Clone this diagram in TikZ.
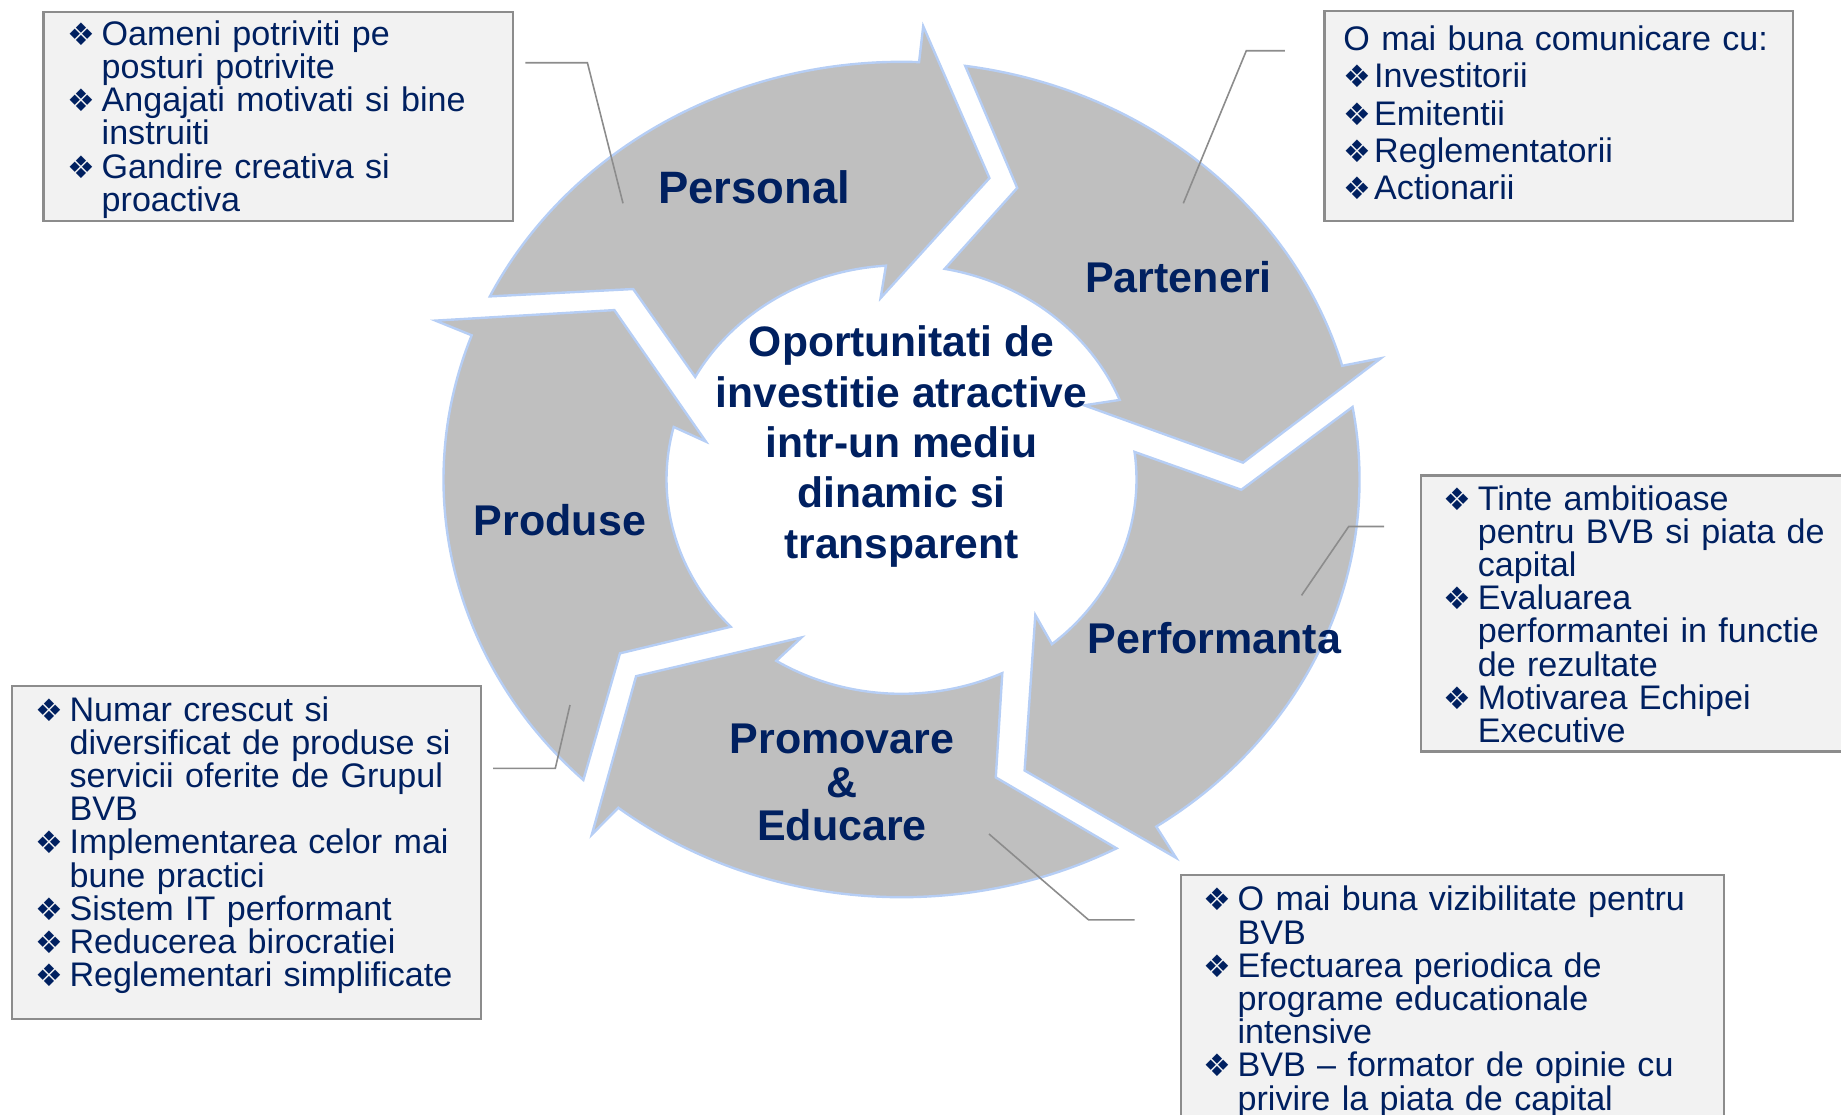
\documentclass[tikz,border=0pt]{standalone}
\usepackage{fontspec}
\setmainfont{Liberation Sans}
\newfontfamily\simbol{DejaVu Sans}
\definecolor{bleumarin}{RGB}{0,32,96}
\definecolor{gri}{RGB}{191,191,191}
\definecolor{contur}{RGB}{182,206,245}
\definecolor{fundal}{RGB}{242,242,242}
\definecolor{chenar}{RGB}{140,140,140}
\newcommand\bul{\makebox[17.2pt][l]{\simbol\fontsize{15.5}{15.5}\selectfont ❖}}
\newcommand\bulc{\makebox[15.4pt][l]{\simbol\fontsize{15.5}{15.5}\selectfont ❖}}
\newcommand\ind{\hspace*{17.2pt}}
\newcommand\sus{\rule{0pt}{17pt}}
\newcommand\fcaseta{\fontsize{17.05}{16.6}\selectfont\lineskiplimit=-20pt\relax}
\tikzset{
  sageata/.style={fill=gri, draw=contur, line width=1.2pt},
  caseta/.style={fill=fundal, draw=chenar, line width=1.1pt},
  linie/.style={draw=chenar, line width=0.8pt},
  eticheta/.style={text=bleumarin, font=\fontsize{21.5}{21.75}\selectfont\bfseries, inner sep=0pt},
  textcaseta/.style={anchor=north west, inner sep=0pt, text width=260pt, align=left, text=bleumarin, font=\fcaseta},
}

\begin{document}
\begin{tikzpicture}[x=0.5pt, y=-0.5pt]
	
	% 页面大小
	\useasboundingbox (0,0) rectangle (1841,1114);
	\clip (0,0) rectangle (1841,1114);
	
	% 圆环参数
	\def\Ro{458} % 外半径
	\def\Ri{235} % 内半径
	\coordinate (centru) at (901.5,479.5);
	
	% 五个圆弧箭头
	\begin{scope}[shift={(centru)}, x=0.5pt, y=0.456pt]
		\foreach \a in {0,-72,-144,-216,-288}{
			\draw[sageata] ({154+\a}:\Ro) arc[start angle={154+\a}, end angle={87.8+\a}, radius=\Ro]
			-- ({87.5+\a}:497.5) -- ({75.1+\a}:342) -- ({96+\a}:200) -- ({93.8+\a}:\Ri)
			arc[start angle={93.8+\a}, end angle={151.4+\a}, radius=\Ri]
			-- ({142.1+\a}:340) -- cycle;
		}
	\end{scope}
	
	% 箭头上的标签
	\node[eticheta, font=\fontsize{22.7}{22.7}\selectfont\bfseries] (personal) at (754,187) {Personal};
	\node[eticheta] (parteneri) at (1178.5,277) {Parteneri};
	\node[eticheta] (performanta) at (1214.5,638) {Performanta};
	\node[eticheta] (produse) at (560,520) {Produse};
	\node[eticheta, align=center] (promovare) at (842,782.5) {Promovare\\\&\\Educare};
	\node[eticheta, align=center, font=\fontsize{21.3}{25.2}\selectfont\bfseries] (mijloc) at (centru) [yshift=16.5pt]
	{Oportunitati de\\investitie atractive\\intr-un mediu\\dinamic si\\transparent};
	
	% 文本框
	\draw[caseta] (43.4,11.7) rectangle (513,220.7);
	\draw[caseta] (1324.4,11) rectangle (1793,220.7);
	\draw[caseta] (1420.7,475.5) rectangle (1860,751.4);
	\draw[caseta] (11.9,686) rectangle (480.6,1019);
	\draw[caseta] (1180.8,875) rectangle (1724.2,1130);
	
	\node[textcaseta] (txt-personal) at (66.9,10.8)
	{\bul\sus Oameni potriviti pe\\\ind posturi potrivite\\\bul Angajati motivati si bine\\\ind instruiti\\\bul Gandire creativa si\\\ind proactiva};
	\node[textcaseta, font=\fontsize{17.05}{18.65}\selectfont] (txt-parteneri) at (1343,16)
	{\sus O mai buna comunicare cu:\\\bulc Investitorii\\\bulc Emitentii\\\bulc Reglementatorii\\\bulc Actionarii};
	\node[textcaseta] (txt-performanta) at (1443,475.7)
	{\bul\sus Tinte ambitioase\\\ind pentru BVB si piata de\\\ind capital\\\bul Evaluarea\\\ind performantei in functie\\\ind de rezultate\\\bul Motivarea Echipei\\\ind Executive};
	\node[textcaseta] (txt-produse) at (34.8,686.7)
	{\bul\sus Numar crescut si\\\ind diversificat de produse si\\\ind servicii oferite de Grupul\\\ind BVB\\\bul Implementarea celor mai\\\ind bune practici\\\bul Sistem IT performant\\\bul Reducerea birocratiei\\\bul Reglementari simplificate};
	\node[textcaseta] (txt-promovare) at (1202.8,876.4)
	{\bul\sus O mai buna vizibilitate pentru\\\ind BVB\\\bul Efectuarea periodica de\\\ind programe educationale\\\ind intensive\\\bul BVB – formator de opinie cu\\\ind privire la piata de capital};
	
	% 引线
	\coordinate (pers-a) at (525.4,62.7);
	\coordinate (pers-b) at (587.4,62.7);
	\coordinate (pers-c) at (623,203.3);
	\draw[linie] (pers-a) -- (pers-b) -- (pers-c);
	\coordinate (part-a) at (1284.8,50.7);
	\coordinate (part-b) at (1246.3,50.7);
	\coordinate (part-c) at (1183.3,203.3);
	\draw[linie] (part-a) -- (part-b) -- (part-c);
	\coordinate (perf-a) at (1384.1,526.5);
	\coordinate (perf-b) at (1348.7,526.5);
	\coordinate (perf-c) at (1301.5,595.4);
	\draw[linie] (perf-a) -- (perf-b) -- (perf-c);
	\coordinate (prod-a) at (493,768.3);
	\coordinate (prod-b) at (555.3,768.3);
	\coordinate (prod-c) at (570,705);
	\draw[linie] (prod-a) -- (prod-b) -- (prod-c);
	\coordinate (prom-a) at (1134.7,919.8);
	\coordinate (prom-b) at (1088.5,919.8);
	\coordinate (prom-c) at (989,834);
	\draw[linie] (prom-a) -- (prom-b) -- (prom-c);
	
\end{tikzpicture}
\end{document}
